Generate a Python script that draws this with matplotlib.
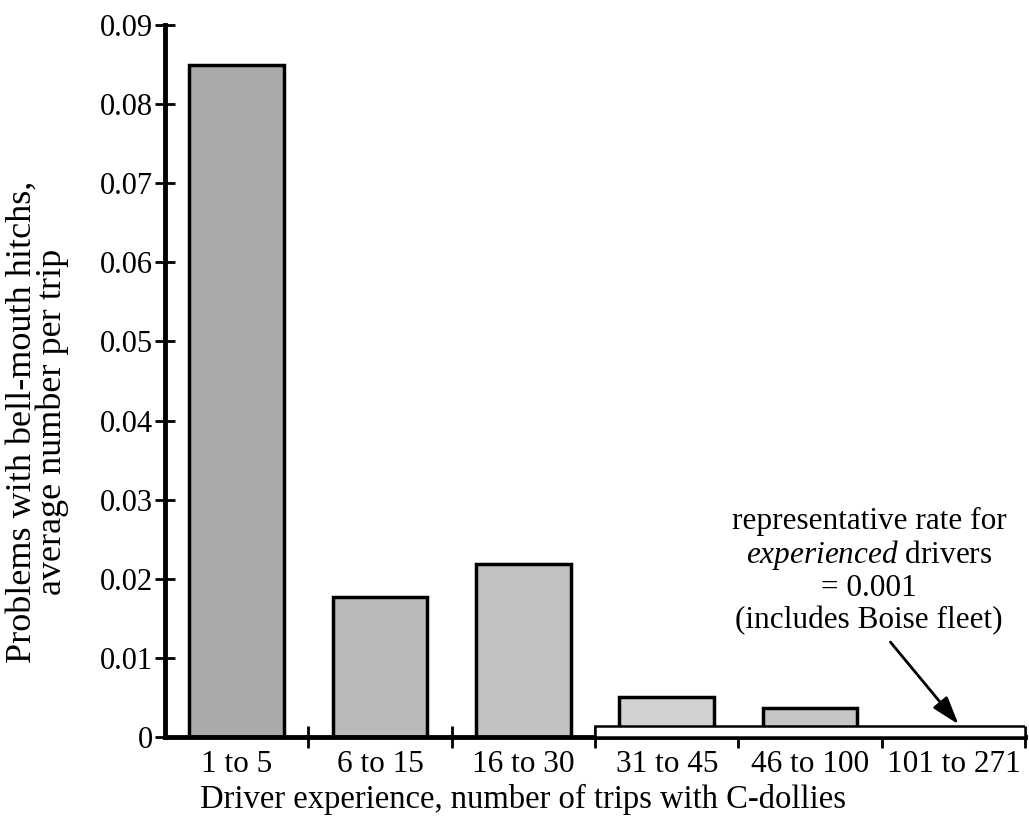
import numpy as np
import matplotlib.pyplot as plt

# data
cats = ['1 to 5', '6 to 15', '16 to 30', '31 to 45', '46 to 100', '101 to 271']
vals = [0.085, 0.0177, 0.0219, 0.0051, 0.0037]
rep_rate = 0.0014
cols = ['#aaaaaa', '#bababa', '#c2c2c2', '#d2d2d2', '#c6c6c6']

plt.rcParams['font.family'] = ['Liberation Serif', 'DejaVu Serif']
plt.rcParams['mathtext.fontset'] = 'custom'
plt.rcParams['mathtext.rm'] = 'Liberation Serif'
plt.rcParams['mathtext.it'] = 'Liberation Serif:italic'

fig = plt.figure(figsize=(10.29, 8.22), dpi=100)
ax = fig.add_axes([0.1603, 0.1034, 0.836, 0.8662])

x = np.arange(len(vals))
ax.bar(x, vals, width=0.66, color=cols, edgecolor='black', linewidth=2.5, zorder=2)
# representative rate box for experienced drivers
ax.bar(2.5, rep_rate, width=3, align='edge', color='white', edgecolor='black',
       linewidth=1.8, zorder=3)

ax.set_xlim(-0.5, 5.5)
ax.set_ylim(0, 0.09)
ax.set_yticks(np.arange(0, 0.091, 0.01))
ax.set_yticklabels(['0'] + ['%.2f' % v for v in np.arange(0.01, 0.091, 0.01)])
ax.set_xticks(np.arange(len(cats)))
ax.set_xticklabels(cats)
ax.set_xticks(np.arange(0.5, 5.6, 1), minor=True)
ax.tick_params(axis='x', which='major', length=0, labelsize=22.5, pad=9)
ax.tick_params(axis='x', which='minor', direction='inout', length=16, width=2)
ax.tick_params(axis='y', direction='inout', length=15, width=2, labelsize=22, pad=1)

for s in ['top', 'right']:
    ax.spines[s].set_visible(False)
for s in ['left', 'bottom']:
    ax.spines[s].set_linewidth(3.5)

ax.set_xlabel('Driver experience, number of trips with C-dollies', fontsize=23.5)
ax.xaxis.set_label_coords(0.416, -0.066)
ax.set_ylabel('Problems with bell-mouth hitchs,\naverage number per trip', fontsize=26,
              linespacing=0.85)
ax.yaxis.set_label_coords(-0.112, 0.442)

ax.text(4.41, 0.0210, 'representative rate for\n$\\it{experienced}$ drivers\n= 0.001\n(includes Boise fleet)',
        ha='center', va='center', fontsize=22.5, linespacing=1.1)
ax.annotate('', xy=(5.035, 0.0016), xytext=(4.56, 0.0120),
            arrowprops=dict(arrowstyle='-|>,head_length=1.7,head_width=0.55',
                            color='black', lw=2, shrinkA=0, shrinkB=0))

fig.savefig('out.png', dpi=100)
